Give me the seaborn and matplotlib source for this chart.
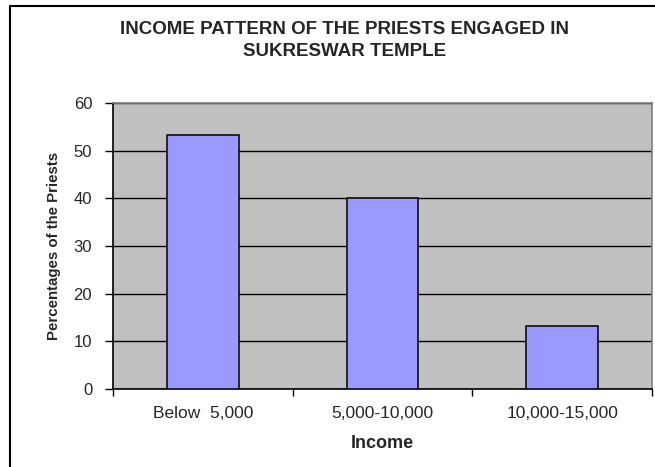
import matplotlib
matplotlib.use("Agg")
import matplotlib.pyplot as plt
import seaborn as sns
import pandas as pd
from matplotlib.lines import Line2D

categories = ["Below  5,000", "5,000-10,000", "10,000-15,000"]
values = [53.3, 40.0, 13.3]
yticks = [0, 10, 20, 30, 40, 50, 60]

sns.set_theme(style="white")
plt.rcParams['font.family'] = ['Liberation Sans', 'DejaVu Sans']

df = pd.DataFrame({"Income": categories, "Pct": values})

fig = plt.figure(figsize=(6.55, 4.67), dpi=100)
ax = fig.add_axes([113/655, 1-389/467, (652-113)/655, (389-103)/467])
ax.set_facecolor("#C0C0C0")
sns.barplot(data=df, x="Income", y="Pct", ax=ax, color="#9999FF",
            width=0.4, edgecolor="black", linewidth=1.1, saturation=1, zorder=3)
ax.set_ylim(0, 60)
ax.set_xlim(-0.5, 2.5)
ax.set_yticks(yticks)
ax.yaxis.grid(True, color="black", linewidth=1.0, zorder=0)
ax.set_axisbelow(True)
ax.set_xticks([-0.5, 0.5, 1.5, 2.5])
ax.set_xticklabels([])
ax.set_xticks([0, 1, 2], minor=True)
ax.set_xticklabels(categories, minor=True, fontsize=12.5)
ax.tick_params(axis='x', which='major', length=5, width=1, color='black', direction='out', bottom=True)
ax.tick_params(axis='x', which='minor', length=0, pad=12)
ax.tick_params(axis='y', length=6, width=1, color='black', direction='out', left=True, labelsize=12, pad=9)
for s in ["left", "bottom"]:
    ax.spines[s].set_color("black")
    ax.spines[s].set_linewidth(1.2)
for s in ["top", "right"]:
    ax.spines[s].set_color("#808080")
    ax.spines[s].set_linewidth(1.2)
ax.set_xlabel("Income", fontsize=13, fontweight="bold", labelpad=10)
ax.set_ylabel("Percentages of the Priests", fontsize=10.8, fontweight="bold", labelpad=9)

fig.text(345/655, 1-30/467, "INCOME PATTERN OF THE PRIESTS ENGAGED IN",
         ha="center", va="center", fontsize=13.5, fontweight="bold")
fig.text(345/655, 1-52/467, "SUKRESWAR TEMPLE",
         ha="center", va="center", fontsize=13.5, fontweight="bold")

fig.add_artist(Line2D([10/655, 10/655], [0, 1-6/467], color="black", linewidth=1.5, transform=fig.transFigure))
fig.add_artist(Line2D([10/655, 1], [1-6/467, 1-6/467], color="black", linewidth=1.5, transform=fig.transFigure))

fig.savefig("out.png", dpi=100)
